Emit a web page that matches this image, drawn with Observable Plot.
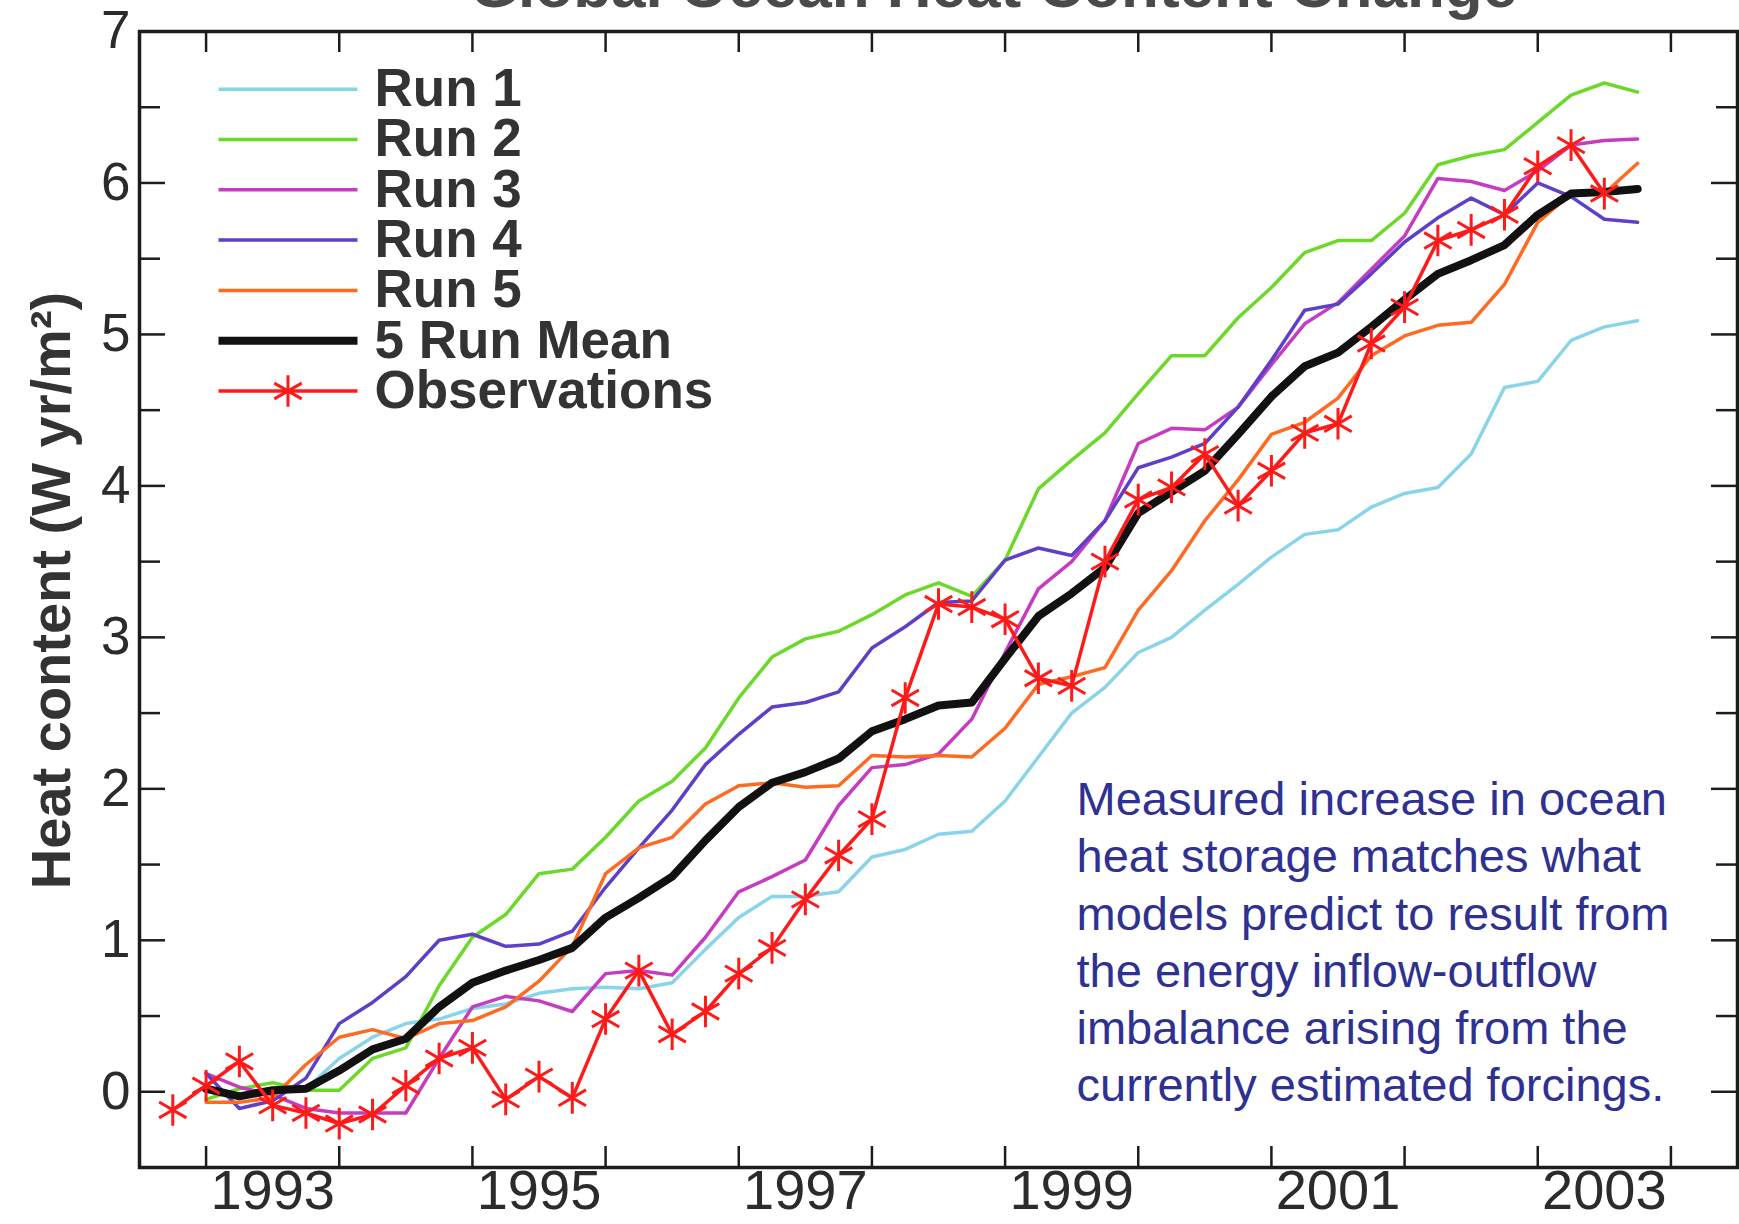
<!DOCTYPE html>
<html>
<head>
<meta charset="utf-8">
<script src="https://cdn.jsdelivr.net/npm/d3@7"></script>
<script src="https://cdn.jsdelivr.net/npm/@observablehq/plot@0.6"></script>
<style>
html, body { margin: 0; padding: 0; background: #ffffff; }
#chart { width: 1739px; height: 1224px; overflow: hidden; }
</style>
</head>
<body>
<div id="chart"></div>
<script>
// ---- data ----
const years = [1993, 1993.25, 1993.5, 1993.75, 1994, 1994.25, 1994.5, 1994.75,
  1995, 1995.25, 1995.5, 1995.75, 1996, 1996.25, 1996.5, 1996.75,
  1997, 1997.25, 1997.5, 1997.75, 1998, 1998.25, 1998.5, 1998.75,
  1999, 1999.25, 1999.5, 1999.75, 2000, 2000.25, 2000.5, 2000.75,
  2001, 2001.25, 2001.5, 2001.75, 2002, 2002.25, 2002.5, 2002.75,
  2003, 2003.25, 2003.5, 2003.75];

const run1 = [0.02, -0.03, 0.00, 0.02, 0.22, 0.36, 0.45, 0.48, 0.55, 0.58, 0.65, 0.68,
  0.69, 0.68, 0.72, 0.94, 1.15, 1.29, 1.29, 1.32, 1.55, 1.60, 1.70, 1.72,
  1.92, 2.21, 2.50, 2.67, 2.90, 3.00, 3.18, 3.35, 3.53, 3.68, 3.71, 3.86,
  3.95, 3.99, 4.21, 4.65, 4.69, 4.96, 5.05, 5.09];
const run2 = [-0.05, 0.02, 0.06, 0.01, 0.01, 0.22, 0.29, 0.70, 1.02, 1.17, 1.44, 1.47,
  1.68, 1.92, 2.05, 2.27, 2.60, 2.87, 2.99, 3.04, 3.15, 3.28, 3.36, 3.27,
  3.51, 3.98, 4.17, 4.35, 4.61, 4.86, 4.86, 5.11, 5.31, 5.54, 5.62, 5.62,
  5.80, 6.12, 6.18, 6.22, 6.40, 6.58, 6.66, 6.60];
const run3 = [0.12, 0.03, -0.02, -0.11, -0.14, -0.14, -0.14, 0.22, 0.56, 0.63, 0.60, 0.53,
  0.78, 0.80, 0.77, 1.02, 1.32, 1.42, 1.53, 1.89, 2.14, 2.16, 2.23, 2.46,
  2.90, 3.32, 3.50, 3.77, 4.28, 4.38, 4.37, 4.52, 4.80, 5.07, 5.21, 5.43,
  5.65, 6.03, 6.01, 5.95, 6.08, 6.25, 6.28, 6.29];
const run4 = [0.12, -0.11, -0.06, 0.09, 0.45, 0.59, 0.76, 1.00, 1.04, 0.96, 0.975, 1.06,
  1.35, 1.61, 1.86, 2.16, 2.36, 2.54, 2.57, 2.64, 2.93, 3.07, 3.23, 3.24,
  3.51, 3.59, 3.54, 3.77, 4.12, 4.19, 4.28, 4.52, 4.83, 5.16, 5.20, 5.40,
  5.61, 5.77, 5.90, 5.79, 6.00, 5.91, 5.76, 5.74];
const run5 = [-0.07, -0.07, -0.04, 0.18, 0.36, 0.41, 0.35, 0.45, 0.47, 0.56, 0.73, 0.96,
  1.44, 1.61, 1.68, 1.90, 2.02, 2.04, 2.01, 2.02, 2.22, 2.21, 2.22, 2.21,
  2.40, 2.69, 2.74, 2.80, 3.18, 3.44, 3.77, 4.04, 4.34, 4.42, 4.58, 4.86,
  4.99, 5.06, 5.08, 5.33, 5.74, 5.93, 5.93, 6.13];
const runMean = [0.02, -0.03, 0.01, 0.02, 0.14, 0.28, 0.35, 0.56, 0.72, 0.80, 0.87, 0.95,
  1.15, 1.28, 1.42, 1.66, 1.88, 2.04, 2.11, 2.20, 2.38, 2.46, 2.55, 2.57,
  2.86, 3.14, 3.29, 3.46, 3.82, 3.96, 4.10, 4.34, 4.59, 4.79, 4.88, 5.05,
  5.23, 5.40, 5.49, 5.59, 5.79, 5.93, 5.94, 5.96];

const obsYears = [1992.75, 1993, 1993.25, 1993.5, 1993.75, 1994, 1994.25, 1994.5, 1994.75,
  1995, 1995.25, 1995.5, 1995.75, 1996, 1996.25, 1996.5, 1996.75,
  1997, 1997.25, 1997.5, 1997.75, 1998, 1998.25, 1998.5, 1998.75,
  1999, 1999.25, 1999.5, 1999.75, 2000, 2000.25, 2000.5, 2000.75,
  2001, 2001.25, 2001.5, 2001.75, 2002, 2002.25, 2002.5, 2002.75,
  2003, 2003.25, 2003.5];
const obs = [-0.12, 0.04, 0.20, -0.09, -0.14, -0.21, -0.15, 0.04, 0.22,
  0.29, -0.05, 0.10, -0.04, 0.48, 0.80, 0.38, 0.53,
  0.78, 0.95, 1.27, 1.56, 1.80, 2.60, 3.22, 3.20,
  3.12, 2.73, 2.68, 3.50, 3.91, 3.99, 4.21, 3.87,
  4.10, 4.35, 4.41, 4.94, 5.18, 5.62, 5.69, 5.79,
  6.11, 6.25, 5.93];

const seriesNames = ["Run 1", "Run 2", "Run 3", "Run 4", "Run 5", "5 Run Mean", "Observations"];
const seriesColors = ["#8ad4ea", "#6cd92a", "#c63cc0", "#5e40c8", "#ff6a22", "#111111", "#ff1a1a"];
const seriesWidths = [3.5, 3.5, 3.5, 3.5, 3.5, 8, 3.5];

const yTickLabels = [0, 1, 2, 3, 4, 5, 6, 7];
const yMajorTicks = [0, 1, 2, 3, 4, 5, 6];
const yMinorTicks = [0.5, 1.5, 2.5, 3.5, 4.5, 5.5, 6.5];
const xTicks = [1993, 1994, 1995, 1996, 1997, 1998, 1999, 2000, 2001, 2002, 2003, 2004];
const xLabelYears = [1993, 1995, 1997, 1999, 2001, 2003];

const titleText = "Global Ocean Heat Content Change";
const yLabelText = "Heat content (W yr/m\u00B2)";
const noteText = "Measured increase in ocean\nheat storage matches what\nmodels predict to result from\nthe energy inflow-outflow\nimbalance arising from the\ncurrently estimated forcings.";

// ---- build tables ----
const modelRuns = [run1, run2, run3, run4, run5, runMean];
const toRows = (xs, vs) => xs.map((t, i) => ({year: t, value: vs[i]}));
const obsRows = toRows(obsYears, obs);

// layout
const W = 1739, H = 1224;
const mL = 139, mR = 2, mT = 31, mB = 57;
const frameW = W - mL - mR, frameH = H - mT - mB;
const majorLen = 26, minorLen = 21, xTickLen = 21;
const axisColor = "#1c1c1c";

const legendLine = {draw(ctx) { ctx.moveTo(-69.5, 0); ctx.lineTo(69.5, 0); }};

const legendMarks = seriesNames.flatMap((name, i) => {
  const dy = 57.7 + 50.3 * i;
  const m = [
    Plot.dot([name], {frameAnchor: "top-left", dx: 148.5, dy, symbol: legendLine, r: 1,
      stroke: seriesColors[i], strokeWidth: seriesWidths[i], fill: "none"}),
    Plot.text([name], {frameAnchor: "top-left", dx: 235, dy, text: d => d, textAnchor: "start",
      lineAnchor: "middle", fontSize: 53, fontWeight: "bold", fill: "#333333"})
  ];
  if (i === 6) m.push(Plot.dot([name], {frameAnchor: "top-left", dx: 148.5, dy, symbol: "asterisk",
    r: 15, stroke: seriesColors[6], strokeWidth: 3, fill: "none"}));
  return m;
});

const chart = Plot.plot({
  width: W, height: H,
  marginLeft: mL, marginRight: mR, marginTop: mT, marginBottom: mB,
  style: {fontFamily: "'Liberation Sans', Arial, Helvetica, sans-serif", background: "#ffffff", overflow: "hidden"},
  x: {domain: [1992.5, 2004.5]},
  y: {domain: [-0.5, 7]},
  marks: [
    // tick marks (inward, both sides)
    Plot.tickY(yMajorTicks, {y: d => d, insetRight: frameW - majorLen, stroke: axisColor, strokeWidth: 2.5}),
    Plot.tickY(yMinorTicks, {y: d => d, insetRight: frameW - minorLen, stroke: axisColor, strokeWidth: 2.5}),
    Plot.tickY(yMajorTicks, {y: d => d, insetLeft: frameW - majorLen, stroke: axisColor, strokeWidth: 2.5}),
    Plot.tickY(yMinorTicks, {y: d => d, insetLeft: frameW - minorLen, stroke: axisColor, strokeWidth: 2.5}),
    Plot.tickX(xTicks, {x: d => d, insetTop: frameH - xTickLen, stroke: axisColor, strokeWidth: 2.5}),
    Plot.tickX(xTicks, {x: d => d, insetBottom: frameH - xTickLen, stroke: axisColor, strokeWidth: 2.5}),
    Plot.frame({stroke: axisColor, strokeWidth: 3.5}),
    // axis labels
    Plot.axisY({ticks: yTickLabels, tickSize: 0, tickPadding: 9, fontSize: 53, color: "#2b2b2b", label: null}),
    Plot.axisX({ticks: xLabelYears.map(y => y + 0.5), tickFormat: d => String(d - 0.5), tickSize: 0,
      tickPadding: 2, fontSize: 56, color: "#2b2b2b", label: null}),
    // model runs and mean
    ...modelRuns.map((vals, k) => Plot.line(toRows(years, vals), {x: "year", y: "value",
      stroke: seriesColors[k], strokeWidth: seriesWidths[k], strokeLinejoin: "round"})),
    // observations
    Plot.line(obsRows, {x: "year", y: "value", stroke: seriesColors[6], strokeWidth: 3.5}),
    Plot.dot(obsRows, {x: "year", y: "value", symbol: "asterisk", r: 15, stroke: seriesColors[6], strokeWidth: 3}),
    // legend
    ...legendMarks,
    // texts
    Plot.text([titleText], {frameAnchor: "top", dx: 55, dy: -25, text: d => d, lineAnchor: "bottom",
      fontSize: 62, fontWeight: "bold", fill: "#4a4a4a"}),
    Plot.text([yLabelText], {frameAnchor: "left", dx: -87, dy: -9, rotate: -90, text: d => d,
      lineAnchor: "middle", textAnchor: "middle", fontSize: 56, fontWeight: "bold", fill: "#333333"}),
    Plot.text([noteText], {frameAnchor: "top-left", dx: 937, dy: 743, text: d => d, textAnchor: "start",
      lineAnchor: "top", lineHeight: 1.217, fontSize: 47, fill: "#2e3192"})
  ]
});
document.getElementById("chart").appendChild(chart);
</script>
</body>
</html>
